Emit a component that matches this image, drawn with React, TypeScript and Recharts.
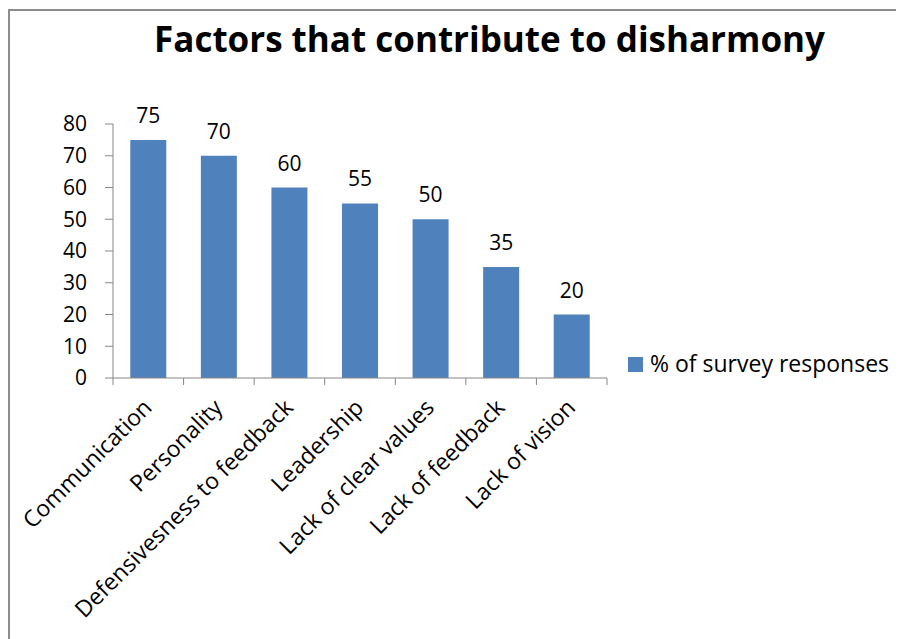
import React from "react";
import { BarChart, Bar, XAxis, YAxis, LabelList } from "recharts";

const categories = [
  "Communication",
  "Personality",
  "Defensivesness to feedback",
  "Leadership",
  "Lack of clear values",
  "Lack of feedback",
  "Lack of vision",
];
const responses = [75, 70, 60, 55, 50, 35, 20];
const yTicks = [0, 10, 20, 30, 40, 50, 60, 70, 80];
const seriesName = "% of survey responses";
const title = "Factors that contribute to disharmony";

const data = categories.map((name, i) => ({ name, value: responses[i] }));

const FONT = "'Open Sans', 'DejaVu Sans', sans-serif";
const AXIS = "#868686";
const BAR = "#4F81BD";

// category label rotated -45deg plus tick marks on the band edges
const CategoryTick = (props: any) => {
  const { x, y, payload, index, width, visibleTicksCount } = props;
  const band = width / visibleTicksCount;
  const left = x - band / 2;
  const right = x + band / 2;
  return (
    <g>
      <line x1={left} y1={y} x2={left} y2={y + 7} stroke={AXIS} />
      {index === visibleTicksCount - 1 && (
        <line x1={right} y1={y} x2={right} y2={y + 7} stroke={AXIS} />
      )}
      <g transform={`translate(${x + 5},${y + 31})`}>
        <text
          transform="rotate(-45)"
          textAnchor="end"
          fontSize={23}
          fontFamily={FONT}
          fill="#000"
        >
          {payload.value}
        </text>
      </g>
    </g>
  );
};

export default function App() {
  return (
    <div
      style={{
        position: "relative",
        width: 896,
        height: 630,
        borderLeft: "2px solid #8c8c8c",
        borderTop: "2px solid #8c8c8c",
        boxSizing: "border-box",
        marginTop: 1,
        background: "#fff",
      }}
    >
      <div
        style={{
          position: "absolute",
          left: 0,
          top: 4,
          width: 959,
          textAlign: "center",
          fontFamily: FONT,
          fontWeight: 700,
          fontSize: 35,
          lineHeight: "normal",
          color: "#000",
          whiteSpace: "nowrap",
        }}
      >
        {title}
      </div>
      <BarChart
        width={894}
        height={628}
        data={data}
        barCategoryGap="24.5%"
        margin={{ top: 113, right: 297, bottom: 61, left: 0 }}
      >
        <YAxis
          type="number"
          domain={[0, 80]}
          ticks={yTicks}
          interval={0}
          width={103}
          tickSize={8}
          tickMargin={18}
          stroke={AXIS}
          tick={{ fill: "#000", fontSize: 21, fontFamily: FONT }}
        />
        <XAxis
          dataKey="name"
          interval={0}
          height={200}
          tickLine={false}
          tickSize={0}
          tickMargin={0}
          stroke={AXIS}
          tick={<CategoryTick />}
        />
        <Bar dataKey="value" name={seriesName} fill={BAR} isAnimationActive={false}>
          <LabelList
            dataKey="value"
            position="top"
            offset={17}
            fill="#000"
            fontSize={21}
            fontFamily={FONT}
          />
        </Bar>
      </BarChart>
      <div
        style={{
          position: "absolute",
          left: 618,
          top: 336,
          display: "flex",
          alignItems: "center",
          fontFamily: FONT,
          fontSize: 23,
          lineHeight: "normal",
          color: "#000",
          whiteSpace: "nowrap",
        }}
      >
        <span
          style={{
            display: "inline-block",
            width: 15,
            height: 15,
            background: BAR,
            marginRight: 7,
            marginTop: 2,
          }}
        />
        <span>{seriesName}</span>
      </div>
    </div>
  );
}
